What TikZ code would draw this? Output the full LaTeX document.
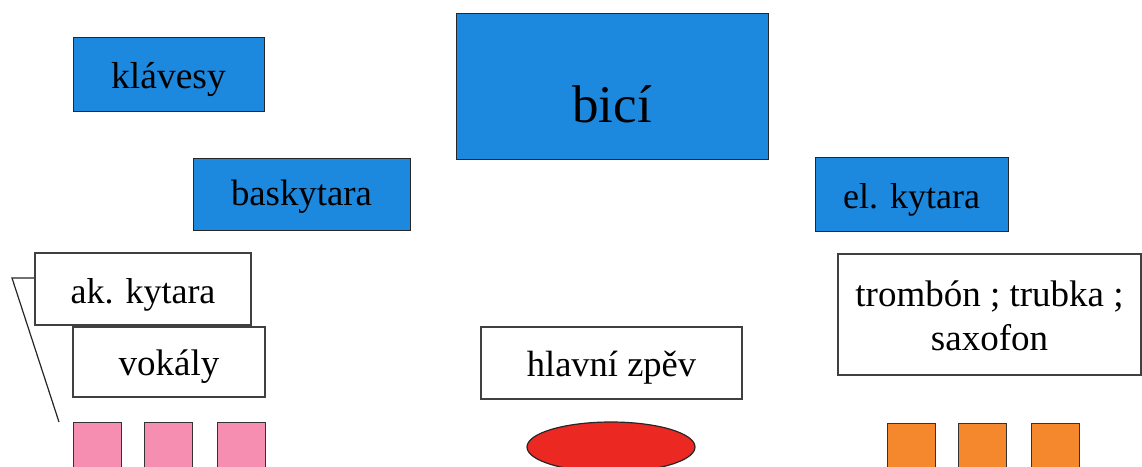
\documentclass[tikz,border=0pt]{standalone}
\usepackage{fontspec}
\setmainfont{Liberation Serif}
\usetikzlibrary{shapes.geometric}
\definecolor{boxblue}{RGB}{28,136,222}
\definecolor{pinkbox}{RGB}{246,142,178}
\definecolor{orangebox}{RGB}{245,135,45}
\definecolor{redoval}{RGB}{236,40,34}
\begin{document}
\begin{tikzpicture}[x=1pt,y=-1pt,
  txt/.style={inner sep=0pt, text depth=0pt, font=\fontsize{36}{44}\selectfont},
  bluebox/.style={txt, draw=black!85, line width=1pt, fill=boxblue},
  whitebox/.style={txt, draw=black!75, line width=1.6pt, fill=white},
  pinksq/.style={draw=black!80, line width=1pt, fill=pinkbox, minimum width=48pt, minimum height=60pt, inner sep=0pt},
  orangesq/.style={draw=black!80, line width=1pt, fill=orangebox, minimum width=48pt, minimum height=60pt, inner sep=0pt},
  ]
\clip (0,0) rectangle (1142,466);
\fill[white] (0,0) rectangle (1142,466);
% blue boxes
\node[bluebox, minimum width=191pt, minimum height=74pt, text height=28pt, font=\fontsize{37.5}{44}\selectfont] (klavesy) at (168.5,74) {klávesy};
\node[bluebox, minimum width=217pt, minimum height=72pt, text height=23pt, font=\fontsize{36.8}{44}\selectfont] (basky) at (301.5,194) {baskytara};
\node[bluebox, minimum width=312pt, minimum height=146pt, text height=72pt, font=\fontsize{53}{60}\selectfont] (bici) at (612,86) {bicí};
\node[bluebox, minimum width=193pt, minimum height=74pt, text height=28pt] (elkyt) at (911.5,194) {el. kytara};
% white boxes
\node[whitebox, minimum width=216pt, minimum height=72pt, text height=28pt] (akkyt) at (143,289) {ak. kytara};
\node[whitebox, minimum width=192pt, minimum height=70pt, text height=26pt, font=\fontsize{37}{44}\selectfont] (vokaly) at (169,362) {vokály};
\node[whitebox, minimum width=261pt, minimum height=72pt, text height=26pt, font=\fontsize{36.5}{44}\selectfont] (zpev) at (611.5,363) {hlavní zpěv};
\node[whitebox, minimum width=303pt, minimum height=121pt, text height=71pt, align=center, font=\fontsize{37}{44}\selectfont] (dech) at (989.5,314.5) {trombón ; trubka ;\\saxofon};
% line
\coordinate (bend) at (12,278);
\coordinate (tail) at (59,422);
\draw[line width=1.2pt, black!85] (bend -| akkyt.west) -- (bend) -- (tail);
% bottom shapes
\node[pinksq] (p1) at (97,452) {};
\node[pinksq] (p2) at (168.5,452) {};
\node[pinksq] (p3) at (241,452) {};
\node[ellipse, draw=black!85, line width=1.2pt, fill=redoval, minimum width=168pt, minimum height=50pt, inner sep=0pt] (singer) at (611,447) {};
\node[orangesq] (o1) at (911,453) {};
\node[orangesq] (o2) at (982.5,453) {};
\node[orangesq] (o3) at (1055,453) {};
\end{tikzpicture}
\end{document}
